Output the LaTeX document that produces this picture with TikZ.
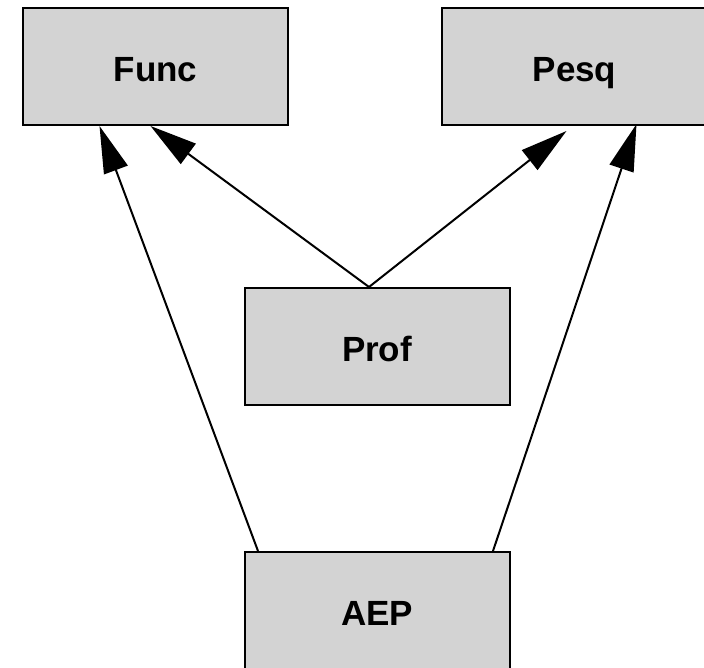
\documentclass[tikz,border=0pt]{standalone}
\usepackage{fontspec}
\setmainfont{Liberation Sans}
\usetikzlibrary{arrows.meta,calc}
\definecolor{boxgray}{RGB}{211,211,211}
\begin{document}
\begin{tikzpicture}[x=1pt,y=-1pt,
  box/.style={draw=black,fill=boxgray,line width=2pt,minimum width=265pt,minimum height=117pt,inner sep=0pt,text height=29pt,text depth=0pt,font=\fontsize{35}{40}\selectfont\bfseries},
  edge/.style={line width=2pt,-{Triangle[length=47pt,width=25pt]}}]
\useasboundingbox (0,0) rectangle (704,667);
\clip (0,0) rectangle (704,667);
\node[box] (func) at (155.5,66.5) {Func};
\node[box] (pesq) at (574.5,66.5) {Pesq};
\node[box] (prof) at (377,346.5) {Prof};
\node[box] (aep) at (377,610.5) {AEP};
\draw[edge] ($(prof.north)+(-8,0)$) -- ($(func.south)+(-5,0)$);
\draw[edge] ($(prof.north)+(-8,0)$) -- ($(pesq.south)+(-8,5)$);
\draw[edge] ($(aep.north)+(-119,0)$) -- ($(func.south)+(-56,0)$);
\draw[edge] ($(aep.north)+(116,0)$) -- ($(pesq.south)+(62,-2)$);
\end{tikzpicture}
\end{document}
